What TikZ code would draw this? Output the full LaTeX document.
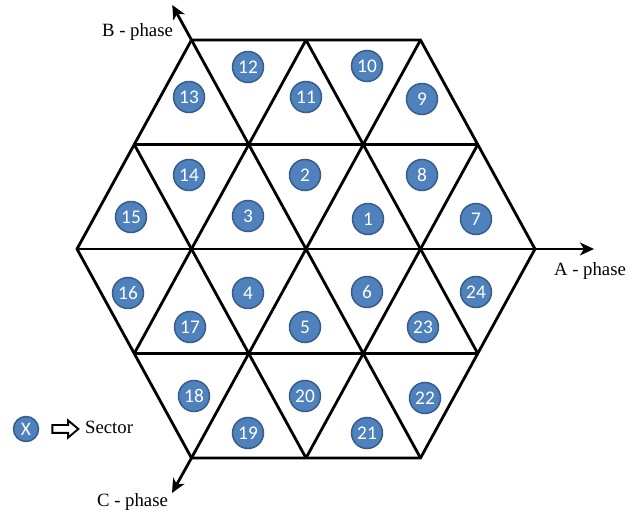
\documentclass[tikz,border=0pt]{standalone}
\usepackage{fontspec}
\setmainfont{Liberation Serif}
\newfontfamily\numfont{Carlito}
\usepackage{xcolor}
\definecolor{secblue}{RGB}{79,129,189}
\definecolor{secedge}{RGB}{56,93,138}
\usetikzlibrary{arrows.meta,positioning,shapes.arrows}
\tikzset{
  sector/.style={circle, draw=secedge, line width=1.3pt, fill=secblue, text=white, inner sep=0pt, minimum size=0.93cm, font=\numfont\fontsize{16.5}{16.5}\selectfont},
  grid/.style={line width=2.4pt, line join=miter},
  axis/.style={line width=2.4pt, -{Stealth[length=12pt, width=11pt, inset=3.5pt]}},
  phase/.style={anchor=base, font=\fontsize{16}{19}\selectfont}
}
\begin{document}
\begin{tikzpicture}[x=0.03cm, y=-0.03cm]
  \useasboundingbox (0,0) rectangle (634,514);

  % Hexagon corners and axis ends
  \coordinate (hb) at (191.5,40);
  \coordinate (ha) at (535,249);
  \coordinate (hc) at (191.5,458);
  \coordinate (tipb) at (172.3,5);
  \coordinate (tipa) at (594,249);
  \coordinate (tipc) at (172,493);

  % Horizontal lines
  \draw[grid] (191.5,40) -- (420.5,40);
  \draw[grid] (134.25,144.5) -- (477.75,144.5);
  \draw[grid] (77,249) -- (535,249);
  \draw[grid] (134.25,353.5) -- (477.75,353.5);
  \draw[grid] (191.5,458) -- (420.5,458);
  % Rising lines
  \draw[grid] (134.25,353.5) -- (306,40);
  \draw[grid] (191.5,458) -- (420.5,40);
  \draw[grid] (306,458) -- (477.75,144.5);
  % Falling lines
  \draw[grid] (306,40) -- (477.75,353.5);
  \draw[grid] (191.5,40) -- (420.5,458);
  \draw[grid] (134.25,144.5) -- (306,458);
  % Outline
  \draw[grid] (191.5,40) -- (420.5,40) -- (535,249) -- (420.5,458) -- (191.5,458) -- (77,249) -- cycle;

  % Phase axes
  \draw[axis] (hb) -- (tipb);
  \draw[axis] (ha) -- (tipa);
  \draw[axis] (hc) -- (tipc);
  \node[phase] (lblb) at (137.5,37) {B - phase};
  \node[phase] (lbla) at (590,276) {A - phase};
  \node[phase] (lblc) at (132.5,507) {C - phase};

  % Sectors, top row
  \node[sector] (s13) at (189,97) {13};
  \node[sector] (s12) at (248,67) {12};
  \node[sector] (s11) at (306,97) {11};
  \node[sector] (s10) at (367,66) {10};
  \node[sector] (s9) at (422,99) {9};
  % Second row
  \node[sector] (s15) at (131,217) {15};
  \node[sector] (s14) at (189,175) {14};
  \node[sector] (s3) at (248,216) {3};
  \node[sector] (s2) at (305,175) {2};
  \node[sector] (s1) at (368,219) {1};
  \node[sector] (s8) at (422,175) {8};
  \node[sector] (s7) at (476,219) {7};
  % Third row
  \node[sector] (s16) at (128,293) {16};
  \node[sector] (s17) at (190,327) {17};
  \node[sector] (s4) at (248,293) {4};
  \node[sector] (s5) at (305,327) {5};
  \node[sector] (s6) at (367,292) {6};
  \node[sector] (s23) at (423,327) {23};
  \node[sector] (s24) at (476,292) {24};
  % Bottom row
  \node[sector] (s18) at (194,396) {18};
  \node[sector] (s19) at (248,433) {19};
  \node[sector] (s20) at (305,396) {20};
  \node[sector] (s21) at (367,433) {21};
  \node[sector] (s22) at (425,398) {22};

  % Legend
  \node[sector, minimum size=0.75cm] (keyx) at (26,429) {X};
  \node[single arrow, draw, line width=1.6pt, minimum height=0.78cm, minimum width=0.5cm, inner sep=0.09cm, single arrow head extend=0.14cm, single arrow tip angle=80] (keyarrow) at (63,429) {};
  \node[phase, anchor=base west] (keytext) at (81,434) {Sector};
\end{tikzpicture}
\end{document}
